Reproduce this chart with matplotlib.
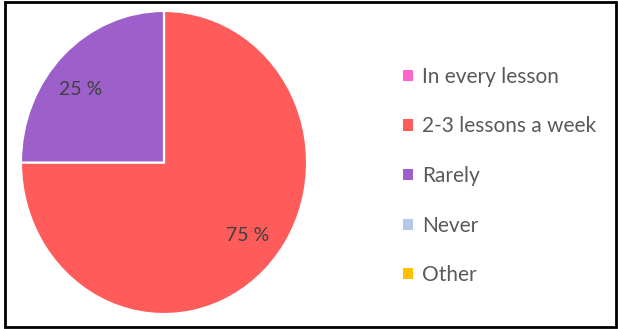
import matplotlib.pyplot as plt
from matplotlib.patches import Patch, Rectangle

categories = ["In every lesson", "2-3 lessons a week", "Rarely", "Never", "Other"]
shares = [0, 75, 25, 0, 0]
colors = ["#FF66CC", "#FF5B5B", "#9D5FC9", "#B4C7E7", "#FFC000"]

plt.rcParams['font.family'] = ['Lato', 'DejaVu Sans']

W, H = 618, 329
fig = plt.figure(figsize=(W / 100, H / 100), dpi=100)

# pie in the reference is slightly taller than wide
cx, cy, rx, ry = 164, 162.5, 143, 151.5
ax = fig.add_axes([(cx - rx) / W, (H - cy - ry) / H, 2 * rx / W, 2 * ry / H])

wedges, texts, autotexts = ax.pie(
    shares, colors=colors, startangle=90, counterclock=False,
    autopct=lambda p: f"{p:.0f} %" if p > 0 else "",
    pctdistance=0.77, radius=1,
    wedgeprops=dict(edgecolor="white", linewidth=1.5),
    textprops=dict(color="#404040", fontsize=14),
)
# labels sit a bit wider/lower than matplotlib's default placement
for t in autotexts:
    x, y = t.get_position()
    t.set_position((x * 1.07, y * 0.88))

ax.set_xlim(-1, 1)
ax.set_ylim(-1, 1)
ax.set_aspect("auto")
ax.axis("off")

handles = [Patch(facecolor=c, edgecolor="none") for c in colors]
fig.legend(handles, categories, loc="upper left", bbox_to_anchor=(0.639, 0.822),
           frameon=False, fontsize=15, labelcolor="#595959",
           handlelength=0.45, handleheight=0.45, handletextpad=0.45,
           labelspacing=1.42, borderaxespad=0)

fig.patches.append(Rectangle((0.008, 0.006), 0.989, 0.988, transform=fig.transFigure,
                             fill=False, edgecolor="black", linewidth=2))

fig.savefig("out.png", dpi=100)
